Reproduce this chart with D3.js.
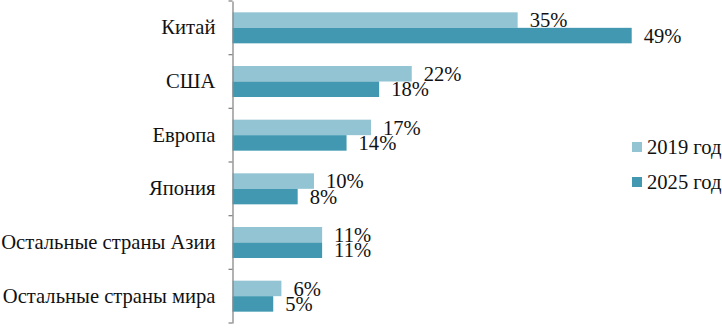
<!DOCTYPE html>
<html>
<head>
<meta charset="utf-8">
<script src="https://cdn.jsdelivr.net/npm/d3@7"></script>
<style>
  body { margin: 0; background: #fff; }
</style>
</head>
<body>
<div id="chart"></div>
<script>
// data
const categories = ["Китай", "США", "Европа", "Япония", "Остальные страны Азии", "Остальные страны мира"];
const values2019 = [35, 22, 17, 10, 11, 6];
const values2025 = [49, 18, 14, 8, 11, 5];
const seriesNames = ["2019 год", "2025 год"];

const COLORS = ["#92c4d3", "#4198b0"];
const FONT = "'Liberation Serif', 'Times New Roman', serif";

const svgWidth = 722;
const svgHeight = 329;
const margin = { top: 1, left: 232.5, bottom: 6 };
const fontSize = 20.6;

const svg = d3.select("#chart").append("svg")
    .attr("width", svgWidth)
    .attr("height", svgHeight)
    .attr("font-family", FONT);

const y = d3.scaleBand()
    .domain(categories)
    .range([margin.top, svgHeight - margin.bottom]);

const x = d3.scaleLinear()
    .domain([0, 49])
    .range([margin.left, 631.7]);

const barH = 15.5;

const rows = categories.map((c, i) => ({ cat: c, vals: [values2019[i], values2025[i]] }));

const groups = svg.append("g")
    .selectAll("g")
    .data(rows)
    .join("g")
    .attr("transform", d => `translate(0,${y(d.cat) + y.bandwidth() / 2 - barH})`);

groups.selectAll("rect")
    .data(d => d.vals)
    .join("rect")
    .attr("x", x(0))
    .attr("y", (d, i) => i * barH)
    .attr("width", d => x(d) - x(0))
    .attr("height", barH)
    .attr("fill", (d, i) => COLORS[i]);

groups.selectAll("text")
    .data(d => d.vals)
    .join("text")
    .attr("x", d => x(d) + 12)
    .attr("y", (d, i) => i * barH + barH / 2)
    .attr("dy", "0.35em")
    .style("font-family", FONT)
    .style("font-size", fontSize + "px")
    .attr("fill", "#111")
    .text(d => d + "%");

// y axis
const yAxis = g => g
    .attr("transform", `translate(${margin.left},0)`)
    .call(d3.axisLeft(y).tickSize(0).tickPadding(17))
    .call(g => g.attr("font-family", null))
    .call(g => g.select(".domain").attr("stroke", "#888").attr("stroke-width", 1.3))
    .call(g => g.selectAll("text")
        .style("font-family", FONT)
        .style("font-size", fontSize + "px")
        .attr("fill", "#111"));

svg.append("g").call(yAxis);

// ticks between categories
const edges = categories.map(c => y(c)).concat([y.range()[1]]);
svg.append("g")
    .selectAll("line")
    .data(edges)
    .join("line")
    .attr("x1", margin.left - 4)
    .attr("x2", margin.left)
    .attr("y1", d => d)
    .attr("y2", d => d)
    .attr("stroke", "#888")
    .attr("stroke-width", 1.3);

// legend
const legend = svg.append("g")
    .selectAll("g")
    .data(seriesNames)
    .join("g")
    .attr("transform", (d, i) => `translate(632,${147 + i * 35})`);

legend.append("rect")
    .attr("x", 0)
    .attr("y", -5)
    .attr("width", 10)
    .attr("height", 10)
    .attr("fill", (d, i) => COLORS[i]);

legend.append("text")
    .attr("x", 15)
    .attr("dy", "0.35em")
    .style("font-family", FONT)
    .style("font-size", fontSize + "px")
    .attr("fill", "#111")
    .text(d => d);
</script>
</body>
</html>
